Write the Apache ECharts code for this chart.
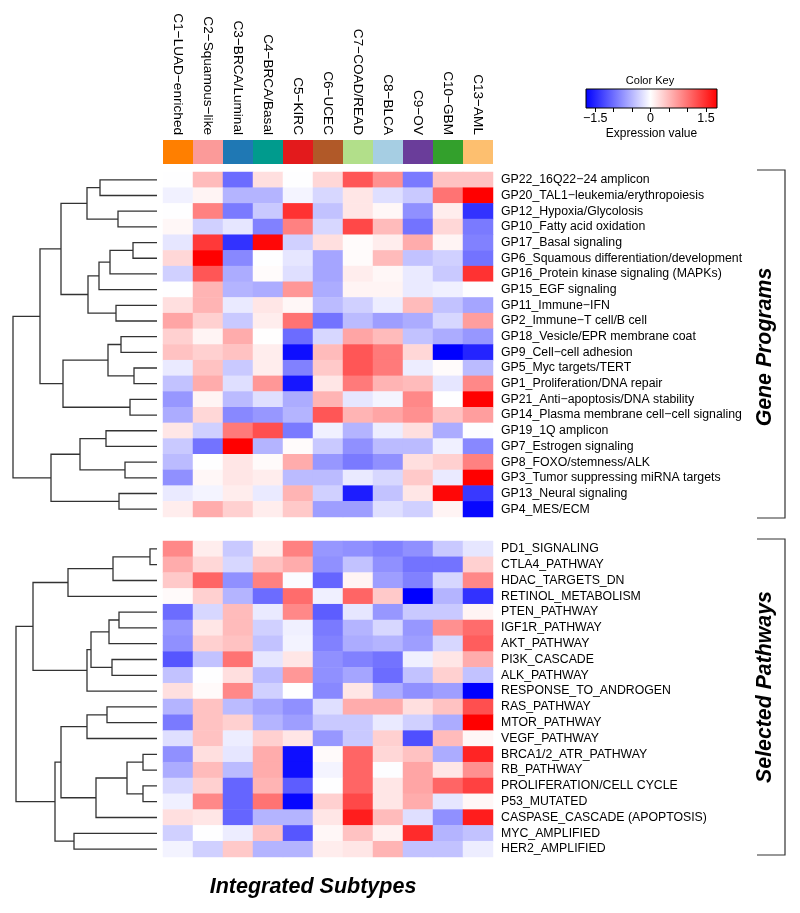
<!DOCTYPE html>
<html>
<head>
<meta charset="utf-8">
<script src="https://cdn.jsdelivr.net/npm/echarts@6/dist/echarts.min.js"></script>
<style>html,body{margin:0;padding:0;background:#fff}#chart{width:800px;height:913px}</style>
</head>
<body>
<div id="chart"></div>
<script>
const FONT = '"Liberation Sans", Arial, Helvetica, sans-serif';

const subtypes = ['C1−LUAD−enriched','C2−Squamous−like','C3−BRCA/Luminal','C4−BRCA/Basal','C5−KIRC','C6−UCEC','C7−COAD/READ','C8−BLCA','C9−OV','C10−GBM','C13−AML'];
const subtypeColors = ['#FF7F00','#FB9A99','#1F78B4','#009B8D','#E31A1C','#B15928','#B2DF8A','#A6CEE3','#6A3D9A','#33A02C','#FDBF6F'];

const geneProgramRows = ['GP22_16Q22−24 amplicon','GP20_TAL1−leukemia/erythropoiesis','GP12_Hypoxia/Glycolosis','GP10_Fatty acid oxidation','GP17_Basal signaling','GP6_Squamous differentiation/development','GP16_Protein kinase signaling (MAPKs)','GP15_EGF signaling','GP11_Immune−IFN','GP2_Immune−T cell/B cell','GP18_Vesicle/EPR membrane coat','GP9_Cell−cell adhesion','GP5_Myc targets/TERT','GP1_Proliferation/DNA repair','GP21_Anti−apoptosis/DNA stability','GP14_Plasma membrane cell−cell signaling','GP19_1Q amplicon','GP7_Estrogen signaling','GP8_FOXO/stemness/ALK','GP3_Tumor suppressing miRNA targets','GP13_Neural signaling','GP4_MES/ECM'];
const geneProgramValues = [
  [0.02,0.5,-1.0,0.25,0.02,0.3,1.2,0.8,-0.9,0.45,0.45],
  [-0.07,0.1,-0.5,-0.5,-0.05,-0.25,0.2,-0.2,-0.35,1.0,1.8],
  [0.02,0.9,-0.9,-0.35,1.45,-0.4,0.2,0.08,-0.75,0.15,-1.4],
  [0.08,-0.3,-0.15,-0.85,0.9,-0.25,1.3,0.5,-0.95,0.3,-0.9],
  [-0.15,1.4,-1.4,1.75,-0.3,0.25,0.05,0.15,0.6,0.1,-0.85],
  [0.3,1.8,-0.8,0.02,-0.15,-0.6,0.05,0.5,-0.4,-0.3,-0.95],
  [-0.3,1.2,-0.55,0.05,-0.2,-0.6,0.15,0.08,-0.12,-0.35,1.45],
  [0.02,0.55,-0.5,-0.55,0.75,-0.55,0.1,0.1,-0.12,-0.08,0.02],
  [0.25,0.55,-0.12,0.2,0.08,-0.45,-0.3,-0.1,0.5,-0.4,-0.6],
  [0.65,0.35,-0.35,0.15,1.0,-0.95,-0.45,-0.65,-0.55,-0.25,0.7],
  [0.35,0.1,0.6,0.03,-1.0,-0.25,0.65,0.5,-0.4,-0.55,-0.7],
  [0.45,0.35,0.45,0.15,-1.65,0.5,1.2,0.95,0.3,-1.75,-1.5],
  [-0.12,0.45,-0.35,0.15,-0.85,0.4,1.2,0.95,-0.1,0.05,-0.45],
  [-0.4,0.6,-0.2,0.75,-1.6,0.2,0.95,0.55,0.5,-0.15,0.85],
  [-0.7,0.1,-0.45,-0.2,-0.55,0.55,-0.15,-0.05,0.85,0.02,1.8],
  [-0.55,0.3,-0.8,-0.7,-0.5,1.2,0.55,0.65,0.8,0.45,0.7],
  [0.2,-0.3,0.95,1.25,-0.9,-0.08,-0.5,-0.1,0.25,-0.55,0.01],
  [-0.35,-0.95,1.8,-0.5,0.05,-0.35,-0.75,-0.45,-0.45,-0.08,-0.8],
  [-0.45,0.02,0.2,0.06,0.6,-0.7,-0.9,-0.75,0.25,0.35,0.9],
  [-0.75,0.08,0.2,0.15,-0.45,-0.45,-0.12,-0.25,0.4,-0.12,1.8],
  [-0.12,-0.05,0.15,-0.12,0.55,-0.3,-1.55,-0.4,0.2,1.75,-1.35],
  [0.15,0.6,0.35,0.15,0.4,-0.65,-0.65,-0.2,-0.3,0.1,-1.7]
];

const pathwayRows = ['PD1_SIGNALING','CTLA4_PATHWAY','HDAC_TARGETS_DN','RETINOL_METABOLISM','PTEN_PATHWAY','IGF1R_PATHWAY','AKT_PATHWAY','PI3K_CASCADE','ALK_PATHWAY','RESPONSE_TO_ANDROGEN','RAS_PATHWAY','MTOR_PATHWAY','VEGF_PATHWAY','BRCA1/2_ATR_PATHWAY','RB_PATHWAY','PROLIFERATION/CELL CYCLE','P53_MUTATED','CASPASE_CASCADE (APOPTOSIS)','MYC_AMPLIFIED','HER2_AMPLIFIED'];
const pathwayValues = [
  [0.85,0.15,-0.35,0.15,0.9,-0.7,-0.75,-0.85,-0.75,-0.35,-0.15],
  [0.6,0.3,-0.25,0.45,0.6,-0.75,-0.4,-0.75,-0.95,-0.95,0.35],
  [0.4,1.1,-0.75,0.9,0.0,-1.05,0.1,-0.65,-0.85,-0.25,0.85],
  [0.06,0.35,-0.5,-1.0,1.05,-0.08,1.1,0.4,-1.75,-0.5,-1.4],
  [-1.0,-0.25,0.5,-0.12,0.85,-1.1,-0.15,-0.7,-0.35,-0.35,0.1],
  [-0.7,0.2,0.5,-0.3,-0.08,-0.9,-0.5,-0.25,-0.7,0.8,1.05],
  [-0.75,0.35,0.45,-0.4,-0.06,-0.85,-0.55,-0.5,-0.65,-0.25,1.15],
  [-1.15,-0.4,1.0,-0.15,0.2,-0.75,-0.85,-0.95,-0.08,0.2,0.6],
  [-0.4,0.02,0.25,-0.45,0.75,-0.75,-0.6,-1.0,-0.4,0.35,-0.4],
  [0.25,0.06,0.85,-0.3,0.02,-0.8,0.2,-0.55,-0.75,-0.65,-1.75],
  [-0.5,0.45,-0.45,-0.6,-0.75,-0.2,0.6,0.6,0.25,0.45,1.25],
  [-0.9,0.45,0.35,-0.5,-0.65,-0.35,-0.35,-0.12,-0.3,-0.55,1.8],
  [-0.2,0.45,-0.1,0.35,0.2,-0.7,-0.35,0.35,-1.2,0.5,0.08],
  [-0.75,0.25,-0.15,0.6,-1.65,0.06,1.1,0.3,0.45,-0.55,1.55],
  [-0.55,0.5,-0.45,0.6,-1.65,-0.05,1.1,0.01,0.65,0.2,0.8],
  [-0.25,0.35,-1.05,0.55,-1.1,0.02,1.1,0.2,0.65,1.1,1.35],
  [-0.08,0.85,-1.05,1.0,-1.7,0.35,1.3,0.2,0.6,-0.15,0.08],
  [0.25,0.2,-1.05,-0.5,-0.5,0.2,1.6,0.5,-0.2,-0.75,1.6],
  [-0.3,0.02,-0.1,0.45,-1.15,0.08,0.45,0.12,1.5,-0.5,-0.4],
  [-0.06,-0.3,0.4,-0.5,-0.5,0.15,0.2,0.55,-0.4,-0.4,-0.1]
];

// Row dendrograms (R hclust-style merge: negative = leaf row index, positive = earlier merge)
const geneProgramMerge = [[-1,-2],[-3,-4],[1,2],[-5,-6],[4,-7],[5,-8],[-9,-10],[6,7],[3,8],[-11,-12],[-13,-14],[10,11],[-15,-16],[12,13],[9,14],[-17,-18],[-19,-20],[16,17],[-21,-22],[18,19],[15,20]];
const geneProgramHeights = [5.7,3.9,7.0,2.4,4.7,5.8,4.1,6.9,9.6,3.6,2.3,4.9,2.7,9.4,11.7,5.1,3.2,7.7,3.8,10.6,14.4];
const pathwayMerge = [[-1,-2],[1,-3],[2,-4],[-5,-6],[4,-7],[-8,-9],[5,6],[7,-10],[3,8],[-11,-12],[10,-13],[-14,-15],[-16,-17],[12,13],[14,-18],[11,15],[-19,-20],[16,17],[9,18]];
const pathwayHeights = [0.7,4.4,8.9,3.8,4.8,4.5,6.6,7.0,12.4,5.0,7.0,1.4,1.4,3.0,6.1,9.6,8.3,10.2,14.1];

const keyMin = -1.75, keyMax = 1.8;
const keyLabels = [-1.5, 0, 1.5];
const keyTicks = [-1.5, -1, -0.5, 0, 0.5, 1, 1.5];

function heatData(values) {
  const out = [];
  values.forEach((row, r) => row.forEach((v, c) => out.push([c, r, v])));
  return out;
}
function dendroSegments(merge, heights) {
  const pos = [], hts = [];
  const get = (i) => i < 0 ? [0, -i - 0.5] : [hts[i - 1], pos[i - 1]];
  const segs = [];
  merge.forEach((m, k) => {
    const a = get(m[0]), b = get(m[1]);
    const h = heights[k];
    pos.push((a[1] + b[1]) / 2); hts.push(h);
    segs.push([a[0], a[1], h, b[1], b[0]]);
  });
  return segs;
}
function renderDendro(params, api) {
  const p1 = api.coord([api.value(0), api.value(1)]);
  const p2 = api.coord([api.value(2), api.value(1)]);
  const p3 = api.coord([api.value(2), api.value(3)]);
  const p4 = api.coord([api.value(4), api.value(3)]);
  return { type: 'polyline', shape: { points: [p1, p2, p3, p4] }, style: { stroke: '#333', lineWidth: 1.3, fill: null } };
}

const chart = echarts.init(document.getElementById('chart'), null, { renderer: 'canvas' });
const hidden = { show: false };
const noLine = { axisLine: hidden, axisTick: hidden, splitLine: hidden };

chart.setOption({
  backgroundColor: '#fff',
  animation: false,
  textStyle: { fontFamily: FONT },
  grid: [
    { left: 163, top: 172, width: 330, height: 345 },
    { left: 163, top: 541, width: 330, height: 316 },
    { left: 163, top: 140, width: 330, height: 24 },
    { left: 13, top: 172, width: 144, height: 345 },
    { left: 13, top: 541, width: 144, height: 316 },
    { left: 586, top: 89, width: 131, height: 19 }
  ],
  xAxis: [
    Object.assign({ type: 'category', gridIndex: 0, data: subtypes, axisLabel: hidden }, noLine),
    Object.assign({ type: 'category', gridIndex: 1, data: subtypes, axisLabel: hidden }, noLine),
    Object.assign({ type: 'category', gridIndex: 2, data: subtypes, position: 'top',
      axisLabel: { rotate: 90, margin: 5, fontSize: 13.6, color: '#000', fontFamily: FONT, interval: 0 } }, noLine),
    { type: 'value', gridIndex: 3, min: 0, max: 14.4, inverse: true, show: false },
    { type: 'value', gridIndex: 4, min: 0, max: 14.4, inverse: true, show: false },
    { type: 'value', gridIndex: 5, min: keyMin, max: keyMax, position: 'bottom',
      axisLine: hidden, splitLine: hidden,
      axisTick: { show: true, customValues: keyTicks, length: 4, lineStyle: { color: '#000' } },
      axisLabel: { customValues: keyLabels, margin: 4, fontSize: 12.5, color: '#000', fontFamily: FONT,
        formatter: v => (v < 0 ? '−' + Math.abs(v) : String(v)) },
      name: 'Expression value', nameLocation: 'middle', nameGap: 20,
      nameTextStyle: { fontSize: 12, color: '#000', fontFamily: FONT } }
  ],
  yAxis: [
    Object.assign({ type: 'category', gridIndex: 0, data: geneProgramRows, inverse: true, position: 'right',
      axisLabel: { margin: 8, fontSize: 12.3, color: '#000', fontFamily: FONT, interval: 0 } }, noLine),
    Object.assign({ type: 'category', gridIndex: 1, data: pathwayRows, inverse: true, position: 'right',
      axisLabel: { margin: 8, fontSize: 12.3, color: '#000', fontFamily: FONT, interval: 0 } }, noLine),
    { type: 'category', gridIndex: 2, data: [''], show: false },
    { type: 'value', gridIndex: 3, min: 0, max: geneProgramRows.length, inverse: true, show: false },
    { type: 'value', gridIndex: 4, min: 0, max: pathwayRows.length, inverse: true, show: false },
    { type: 'value', gridIndex: 5, min: 0, max: 1, show: false }
  ],
  visualMap: {
    show: false, type: 'continuous', seriesIndex: [0, 1], min: keyMin, max: keyMax, dimension: 2,
    inRange: { color: ['#0000ff', '#ffffff', '#ff0000'] }
  },
  graphic: [
    { type: 'text', x: 650, y: 81, style: { text: 'Color Key', font: '11px ' + FONT, fill: '#000', align: 'center', verticalAlign: 'middle' } },
    { type: 'polyline', shape: { points: [[757, 170], [785, 170], [785, 518], [757, 518]] }, style: { stroke: '#333', lineWidth: 1.2, fill: null } },
    { type: 'polyline', shape: { points: [[757, 539], [785, 539], [785, 855], [757, 855]] }, style: { stroke: '#333', lineWidth: 1.2, fill: null } },
    { type: 'text', x: 765, y: 347, rotation: Math.PI / 2, style: { text: 'Gene Programs', font: 'italic bold 21.3px ' + FONT, fill: '#000', align: 'center', verticalAlign: 'middle' } },
    { type: 'text', x: 765, y: 687, rotation: Math.PI / 2, style: { text: 'Selected Pathways', font: 'italic bold 21.3px ' + FONT, fill: '#000', align: 'center', verticalAlign: 'middle' } },
    { type: 'text', x: 313, y: 887, style: { text: 'Integrated Subtypes', font: 'italic bold 21.5px ' + FONT, fill: '#000', align: 'center', verticalAlign: 'middle' } }
  ],
  series: [
    { type: 'heatmap', xAxisIndex: 0, yAxisIndex: 0, data: heatData(geneProgramValues), itemStyle: { borderWidth: 0 }, emphasis: { disabled: true } },
    { type: 'heatmap', xAxisIndex: 1, yAxisIndex: 1, data: heatData(pathwayValues), itemStyle: { borderWidth: 0 }, emphasis: { disabled: true } },
    { type: 'custom', xAxisIndex: 2, yAxisIndex: 2, data: subtypes.map((s, i) => [i, 0]),
      renderItem: (params, api) => {
        const p = api.coord([api.value(0), 0]);
        const s = api.size([1, 1]);
        return { type: 'rect', shape: { x: p[0] - s[0] / 2, y: p[1] - s[1] / 2, width: s[0], height: s[1] },
          style: { fill: subtypeColors[params.dataIndex] } };
      } },
    { type: 'custom', xAxisIndex: 3, yAxisIndex: 3, data: dendroSegments(geneProgramMerge, geneProgramHeights), renderItem: renderDendro, silent: true },
    { type: 'custom', xAxisIndex: 4, yAxisIndex: 4, data: dendroSegments(pathwayMerge, pathwayHeights), renderItem: renderDendro, silent: true },
    { type: 'custom', xAxisIndex: 5, yAxisIndex: 5, data: [[keyMin, keyMax]], silent: true,
      renderItem: (params, api) => {
        const p0 = api.coord([api.value(0), 1]);
        const p1 = api.coord([api.value(1), 0]);
        const mid = (0 - keyMin) / (keyMax - keyMin);
        return { type: 'rect', shape: { x: p0[0], y: p0[1], width: p1[0] - p0[0], height: p1[1] - p0[1] },
          style: { stroke: '#000', lineWidth: 1,
            fill: new echarts.graphic.LinearGradient(0, 0, 1, 0, [
              { offset: 0, color: '#0000ff' }, { offset: mid, color: '#ffffff' }, { offset: 1, color: '#ff0000' }]) } };
      } }
  ]
});
</script>
</body>
</html>
